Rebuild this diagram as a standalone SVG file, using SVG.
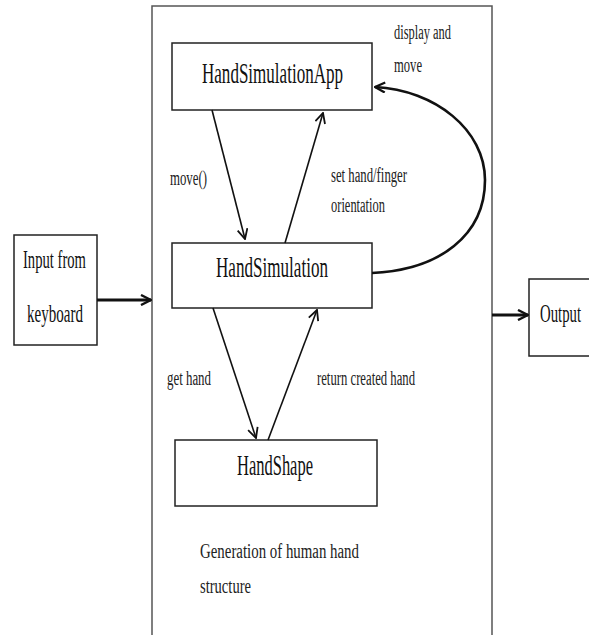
<svg xmlns="http://www.w3.org/2000/svg" width="589" height="635" viewBox="0 0 589 635">
<style>
.box{fill:#fff;stroke:#222;stroke-width:1.5}
.outer{fill:#fff;stroke:#555;stroke-width:1.5}
.big{font-family:"Liberation Serif",serif;font-size:29px;fill:#111}
.mid{font-family:"Liberation Serif",serif;font-size:25px;fill:#111}
.sm{font-family:"Liberation Serif",serif;font-size:20px;fill:#222}
.ln{fill:none;stroke:#111;stroke-width:1.6}
.thick{fill:none;stroke:#111;stroke-width:3}
</style>
<defs>
<marker id="ah" viewBox="0 0 12 12" refX="11" refY="6" markerWidth="12" markerHeight="12" markerUnits="userSpaceOnUse" orient="auto">
<path d="M1,1 L11,6 L1,11" fill="none" stroke="#111" stroke-width="1.8"/>
</marker>
<marker id="ahb" viewBox="0 0 12 12" refX="11" refY="6" markerWidth="12" markerHeight="12" markerUnits="userSpaceOnUse" orient="auto">
<path d="M1,1 L11,6 L1,11" fill="none" stroke="#111" stroke-width="2.4"/>
</marker>
</defs>
<g id="outer">
<path class="outer" d="M152,640 L152,6 L492,6 L492,640"/>
<text class="sm" x="200" y="558" textLength="159" lengthAdjust="spacingAndGlyphs">Generation of human hand</text>
<text class="sm" x="200" y="593" textLength="51" lengthAdjust="spacingAndGlyphs">structure</text>
</g>
<g id="input">
<rect class="box" x="14" y="235" width="83" height="110"/>
<text class="mid" x="23" y="268" textLength="63" lengthAdjust="spacingAndGlyphs">Input from</text>
<text class="mid" x="27" y="322" textLength="56" lengthAdjust="spacingAndGlyphs">keyboard</text>
</g>
<g id="output">
<rect class="box" x="529" y="279" width="70" height="77"/>
<text class="mid" x="540" y="322" textLength="41" lengthAdjust="spacingAndGlyphs">Output</text>
</g>
<g id="app">
<rect class="box" x="172" y="43" width="200" height="67"/>
<text class="big" x="202" y="83" textLength="141" lengthAdjust="spacingAndGlyphs">HandSimulationApp</text>
</g>
<g id="sim">
<rect class="box" x="172" y="243" width="200" height="65"/>
<text class="big" x="216" y="277" textLength="112" lengthAdjust="spacingAndGlyphs">HandSimulation</text>
</g>
<g id="shape">
<rect class="box" x="175" y="440" width="202" height="66"/>
<text class="big" x="237" y="475" textLength="76" lengthAdjust="spacingAndGlyphs">HandShape</text>
</g>
<g id="connectors">
<line class="thick" x1="97" y1="300" x2="151" y2="300" marker-end="url(#ahb)"/>
<line class="thick" x1="492" y1="315" x2="528" y2="315" marker-end="url(#ahb)"/>
<line class="ln" x1="212" y1="110" x2="245" y2="239" marker-end="url(#ah)"/>
<line class="ln" x1="285" y1="243" x2="323" y2="113" marker-end="url(#ah)"/>
<line class="ln" x1="213" y1="308" x2="256" y2="438" marker-end="url(#ah)"/>
<line class="ln" x1="268" y1="440" x2="317" y2="310" marker-end="url(#ah)"/>
<path class="ln" style="stroke-width:2.6" d="M372,273 C440,270 485,235 485,180 C485,130 435,90 375,87" marker-end="url(#ahb)"/>
<text class="sm" x="394" y="39" textLength="57" lengthAdjust="spacingAndGlyphs">display and</text>
<text class="sm" x="394" y="72" textLength="28" lengthAdjust="spacingAndGlyphs">move</text>
<text class="sm" x="170" y="185" textLength="37" lengthAdjust="spacingAndGlyphs">move()</text>
<text class="sm" x="331" y="182" textLength="76" lengthAdjust="spacingAndGlyphs">set hand/finger</text>
<text class="sm" x="331" y="212" textLength="54" lengthAdjust="spacingAndGlyphs">orientation</text>
<text class="sm" x="167" y="385" textLength="44" lengthAdjust="spacingAndGlyphs">get hand</text>
<text class="sm" x="317" y="385" textLength="98" lengthAdjust="spacingAndGlyphs">return created hand</text>
</g>
</svg>
